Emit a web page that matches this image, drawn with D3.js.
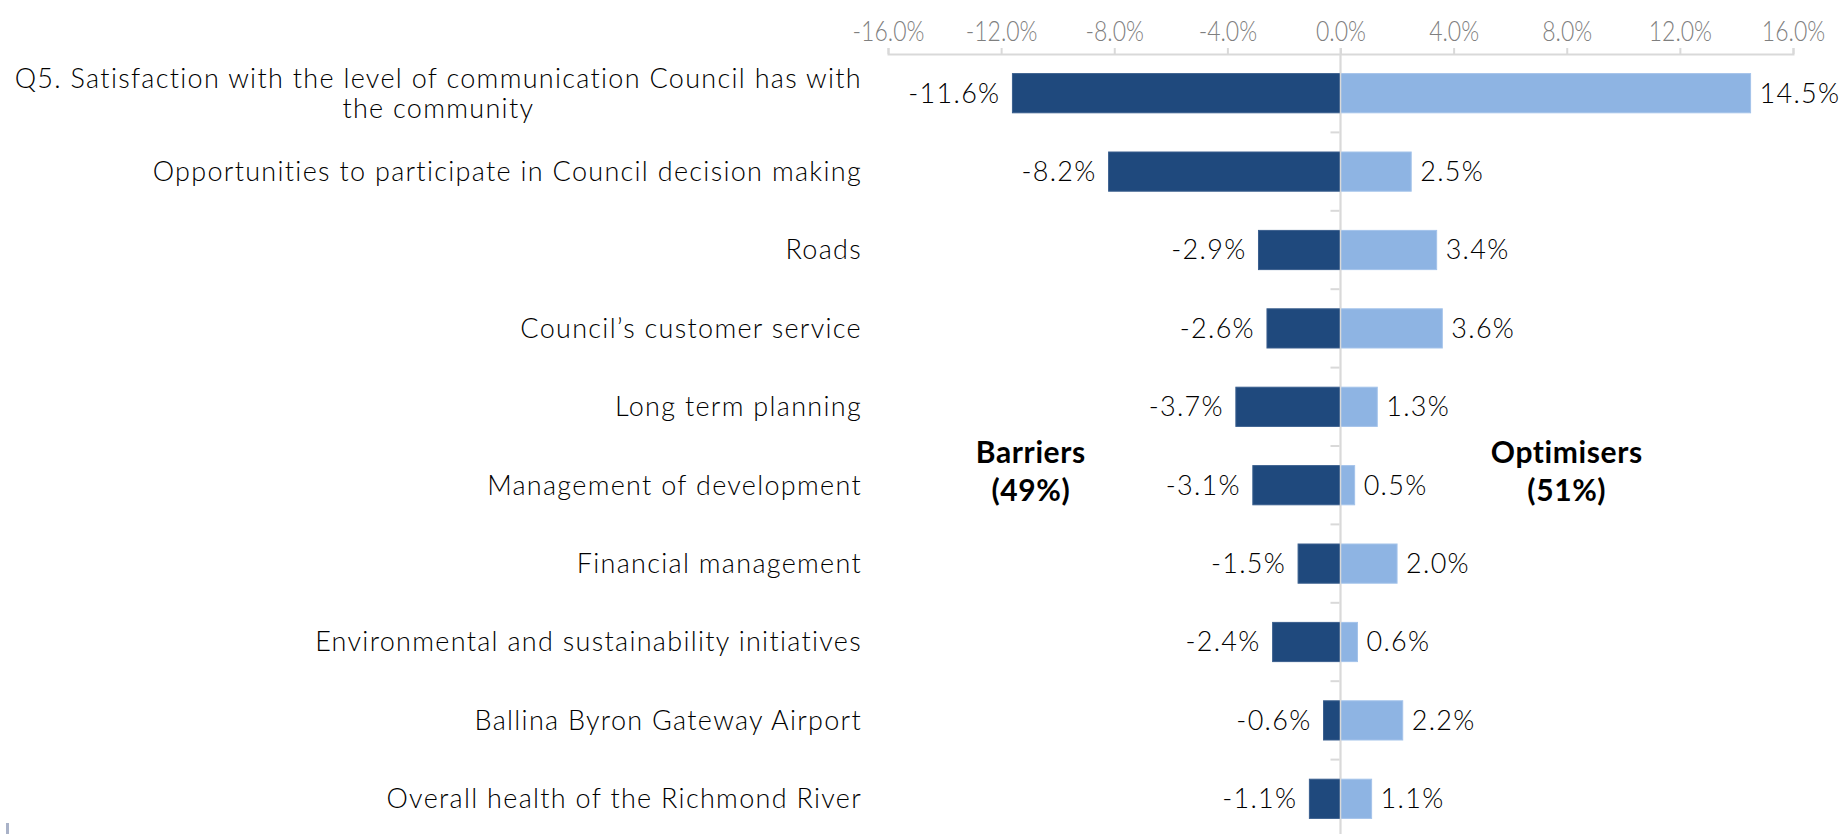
<!DOCTYPE html>
<html>
<head>
<meta charset="utf-8">
<script src="https://cdn.jsdelivr.net/npm/d3@7"></script>
<style>
  html, body { margin: 0; padding: 0; background: #ffffff; }
  svg { display: block; }
  text { font-family: "Lato", "DejaVu Sans", sans-serif; }
  .lbl { font-size: 27px; font-weight: 300; letter-spacing: 1.3px; fill: #000; }
  .head { font-size: 30px; font-weight: 700; letter-spacing: 0.6px; fill: #000; }
</style>
</head>
<body>
<svg id="chart" width="1847" height="834"></svg>
<script>
// Survey items (top to bottom); multi-line labels split with "\n"
const categories = [
  "Q5. Satisfaction with the level of communication Council has with\nthe community",
  "Opportunities to participate in Council decision making",
  "Roads",
  "Council\u2019s customer service",
  "Long term planning",
  "Management of development",
  "Financial management",
  "Environmental and sustainability initiatives",
  "Ballina Byron Gateway Airport",
  "Overall health of the Richmond River"
];

// Share of impact (%) pulling satisfaction down / up
const barriers   = [-11.6, -8.2, -2.9, -2.6, -3.7, -3.1, -1.5, -2.4, -0.6, -1.1];
const optimisers = [14.5, 2.5, 3.4, 3.6, 1.3, 0.5, 2.0, 0.6, 2.2, 1.1];

const tickValues = [-16, -12, -8, -4, 0, 4, 8, 12, 16];
const groupLabels = [
  { side: -1, lines: ["Barriers", "(49%)"] },
  { side:  1, lines: ["Optimisers", "(51%)"] }
];

const colDark = "#1F497D";
const colLight = "#8EB4E3";
const colGrid = "#D9D9D9";

const svg = d3.select("#chart");

// percent with a plain hyphen for negatives
const fmt = v => d3.format(".1f")(v).replace("\u2212", "-") + "%";

const axisY = 54;
const x = d3.scaleLinear().domain([-16, 16]).range([888, 1793]);
const y = d3.scaleBand()
  .domain(categories)
  .range([axisY, axisY + 784])
  .paddingInner(0.5)
  .paddingOuter(0.25);

// Top value axis
const xAxis = d3.axisTop(x)
  .tickValues(tickValues)
  .tickSize(6)
  .tickPadding(6)
  .tickFormat(fmt);

const gx = svg.append("g")
  .attr("transform", `translate(0,${axisY})`)
  .call(xAxis);
gx.select(".domain").attr("stroke", colGrid).attr("stroke-width", 2);
gx.selectAll(".tick line").attr("stroke", colGrid).attr("stroke-width", 2);
gx.selectAll(".tick text")
  .attr("fill", "#7F7F7F")
  .style("font-size", "25px")
  .style("font-weight", "300")
  .attr("transform", "scale(0.92,1.1)");

// Zero line running down the plot
svg.append("line")
  .attr("x1", x(0)).attr("x2", x(0))
  .attr("y1", axisY - 6).attr("y2", 834)
  .attr("stroke", colGrid).attr("stroke-width", 2);

// Category tick marks on the zero line, at the boundaries between categories
const yAxis = d3.axisLeft(y).tickSize(9).tickFormat("");
const gy = svg.append("g")
  .attr("transform", `translate(${x(0) - 1},0)`)
  .call(yAxis);
gy.select(".domain").remove();
gy.selectAll(".tick line")
  .attr("transform", `translate(0,${y.step() / 2})`)
  .attr("stroke", colGrid).attr("stroke-width", 2);
gy.selectAll(".tick").filter((d, i) => i === categories.length - 1).remove();

// Bars
const rows = categories.map((c, i) => ({ cat: c, neg: barriers[i], pos: optimisers[i] }));

svg.append("g").selectAll("rect")
  .data(rows).join("rect")
  .attr("x", d => x(d.neg))
  .attr("width", d => x(0) - x(d.neg))
  .attr("y", d => y(d.cat))
  .attr("height", y.bandwidth())
  .attr("fill", colDark)
  .attr("stroke", "#3A5F8E").attr("stroke-width", 1);

svg.append("g").selectAll("rect")
  .data(rows).join("rect")
  .attr("x", x(0))
  .attr("width", d => x(d.pos) - x(0))
  .attr("y", d => y(d.cat))
  .attr("height", y.bandwidth())
  .attr("fill", colLight)
  .attr("stroke", "#A4C3EA").attr("stroke-width", 1);

// Zero line over the bars' joint
svg.append("line")
  .attr("x1", x(0)).attr("x2", x(0))
  .attr("y1", axisY).attr("y2", 834)
  .attr("stroke", colGrid).attr("stroke-width", 1.5);

// Value labels
svg.append("g").selectAll("text")
  .data(rows).join("text")
  .attr("class", "lbl")
  .attr("x", d => x(d.neg) - 12)
  .attr("y", d => y(d.cat) + y.bandwidth() / 2)
  .attr("dy", "0.35em")
  .attr("text-anchor", "end")
  .text(d => fmt(d.neg));

svg.append("g").selectAll("text")
  .data(rows).join("text")
  .attr("class", "lbl")
  .attr("x", d => x(d.pos) + 9)
  .attr("y", d => y(d.cat) + y.bandwidth() / 2)
  .attr("dy", "0.35em")
  .attr("text-anchor", "start")
  .text(d => fmt(d.pos));

// Category labels, right aligned; wrapped lines centred within the block
const labelRight = 862;
const lineGap = 30;
const catG = svg.append("g");
categories.forEach(c => {
  const lines = c.split("\n");
  const cy = y(c) + y.bandwidth() / 2;
  const top = cy - (lines.length - 1) * lineGap / 2;
  const first = catG.append("text")
    .attr("class", "lbl")
    .attr("x", labelRight).attr("y", top).attr("dy", "0.35em")
    .attr("text-anchor", "end")
    .text(lines[0]);
  const w = first.node().getComputedTextLength();
  lines.slice(1).forEach((ln, k) => {
    catG.append("text")
      .attr("class", "lbl")
      .attr("x", labelRight - w / 2).attr("y", top + (k + 1) * lineGap).attr("dy", "0.35em")
      .attr("text-anchor", "middle")
      .text(ln);
  });
});

// Group headings
const headX = { "-1": x(-10.95), "1": x(8.0) };
groupLabels.forEach(g => {
  g.lines.forEach((ln, k) => {
    svg.append("text")
      .attr("class", "head")
      .attr("x", headX[g.side])
      .attr("y", 452 + k * 38)
      .attr("dy", "0.35em")
      .attr("text-anchor", "middle")
      .text(ln);
  });
});

// small edge mark at the lower left
svg.append("rect")
  .attr("x", 6).attr("y", 823).attr("width", 3).attr("height", 11)
  .attr("fill", "#A9B2C8");
</script>
</body>
</html>
